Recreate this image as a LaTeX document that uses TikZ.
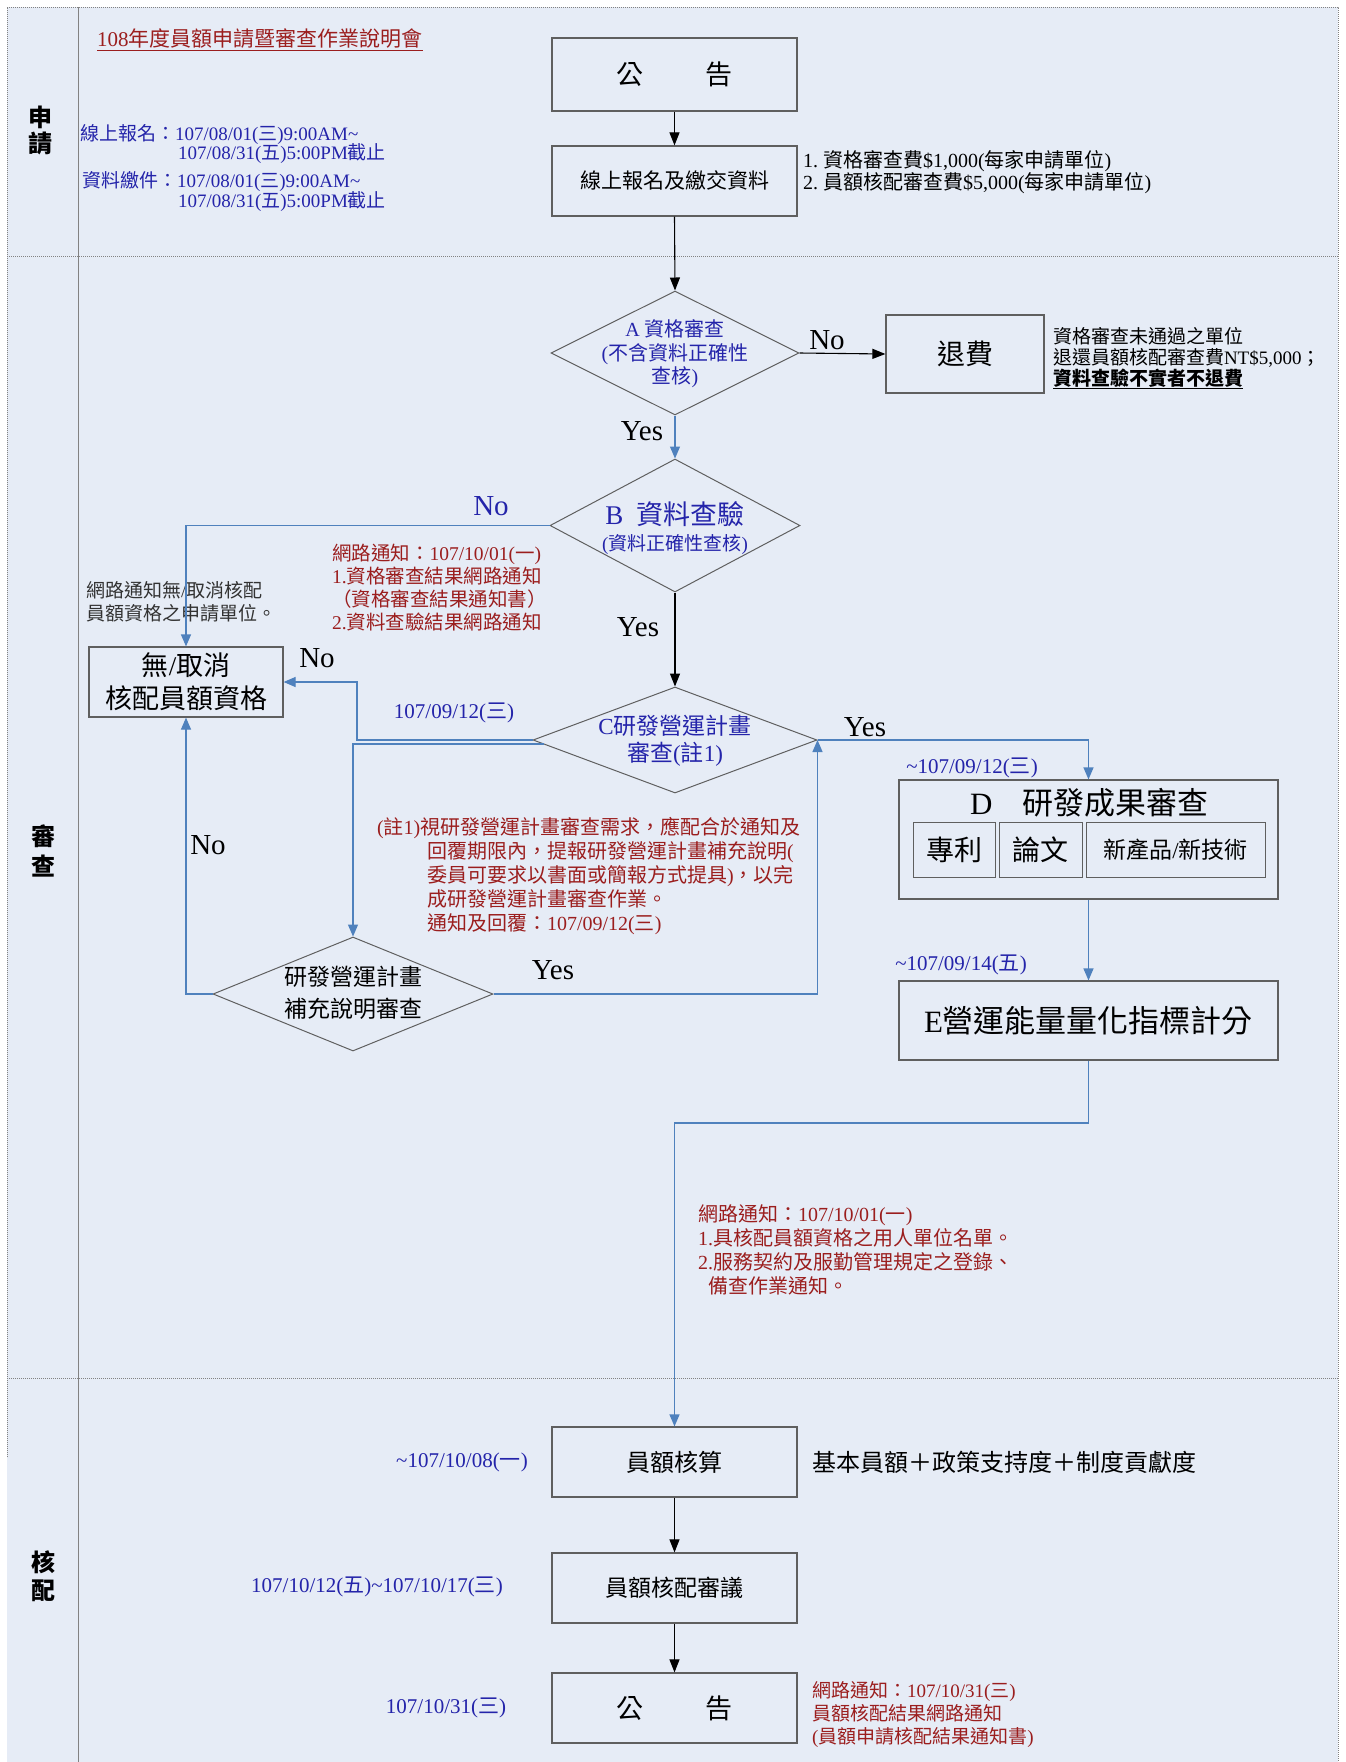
\documentclass[tikz,border=0pt]{standalone}
\usepackage{fontspec}
\setmainfont{Liberation Serif}
\newfontfamily\cjkfont{Noto Sans CJK TC}
\newfontfamily\latfont{Liberation Serif}
\usetikzlibrary{arrows.meta,shapes.geometric}
\definecolor{bgblue}{RGB}{230,236,246}
\definecolor{framegray}{RGB}{130,130,130}
\definecolor{lnblue}{RGB}{79,129,189}
\definecolor{txtblue}{RGB}{36,36,170}
\definecolor{txtred}{RGB}{155,30,30}
\definecolor{boxgray}{RGB}{95,95,95}
\definecolor{notegray}{RGB}{50,50,50}
\count255="3000
\loop
\XeTeXcharclass\count255=7
\advance\count255 by 1
\ifnum\count255<"A000
\repeat
\count255="FF00
\loop
\XeTeXcharclass\count255=7
\advance\count255 by 1
\ifnum\count255<"FFF0
\repeat
\XeTeXinterchartoks 0 7 = {\cjkfont}
\XeTeXinterchartoks 4095 7 = {\cjkfont}
\XeTeXinterchartoks 7 0 = {\latfont}
\XeTeXinterchartoks 4095 0 = {\latfont}
\newcommand\fs[2]{\fontsize{#1}{#2}\selectfont}
\begin{document}
\XeTeXinterchartokenstate=1
\begin{tikzpicture}[x=1pt,y=-1pt,
  lbl/.style={inner sep=0pt, outer sep=0pt},
  procbox/.style={draw=boxgray, line width=1.2pt, inner sep=0pt, minimum width=245pt, minimum height=70pt},
  decide/.style={draw=boxgray, line width=1pt, diamond, inner sep=0pt},
  barrow/.style={draw=black, line width=1.1pt, -{Triangle[length=13pt,width=10pt]}},
  blarrow/.style={draw=lnblue, line width=1.2pt, -{Triangle[length=12pt,width=10pt]}},
  yn/.style={lbl, font=\fs{29}{30}},
  framedot/.style={draw=framegray, densely dotted, line width=1pt},
  frameln/.style={draw=framegray, line width=0.8pt}]
\useasboundingbox (0,0) rectangle (1345,1762);
\fill[white] (0,0) rectangle (1345,1762);
\fill[bgblue] (7,7) rectangle (1338,1762);
\draw[framedot] (7,1457) -- (7,7) -- (1338,7) -- (1338,1762);
\draw[frameln] (78,7) -- (78,1762);
\draw[framedot] (7,256) -- (1338,256);
\draw[framedot] (7,1378) -- (1338,1378);

% lane labels
\node[lbl, align=center, font=\fs{24}{26}\bfseries] (laneA) at (40,130) {申\\請};
\node[lbl, align=center, font=\fs{24}{30}\bfseries] (laneB) at (43,851) {審\\查};
\node[lbl, align=center, font=\fs{24}{28}\bfseries] (laneC) at (43,1576) {核\\配};

% top lane
\node[lbl, anchor=west, text=txtred, font=\fs{21}{24}] (title) at (97,40) {\underline{108年度員額申請暨審查作業說明會}};
\node[lbl, anchor=west, text=txtblue, font=\fs{19}{21}] (reg1) at (80,135) {線上報名：107/08/01(三)9:00AM\textasciitilde};
\node[lbl, anchor=west, text=txtblue, font=\fs{19}{21}] (reg2) at (178,154) {107/08/31(五)5:00PM截止};
\node[lbl, anchor=west, text=txtblue, font=\fs{19}{21}] (sub1) at (82,182) {資料繳件：107/08/01(三)9:00AM\textasciitilde};
\node[lbl, anchor=west, text=txtblue, font=\fs{19}{21}] (sub2) at (178,202) {107/08/31(五)5:00PM截止};

\node[procbox, minimum height=73pt, font=\fs{27}{30}] (ann1) at (674.5,74.5) {公\hspace{63pt}告};
\node[procbox, font=\fs{21}{24}] (apply) at (674.5,181) {線上報名及繳交資料};
\node[lbl, anchor=west, align=left, font=\fs{20}{21}] (fee) at (803,172.5) {1.\ 資格審查費\$1,000(每家申請單位)\\2.\ 員額核配審查費\$5,000(每家申請單位)};

% A
\node[decide, minimum width=248pt, minimum height=124pt] (A) at (675,353) {};
\node[lbl, align=center, text=txtblue, font=\fs{20}{23.5}] (atext) at (675,354) {A\ 資格審查\\(不含資料正確性\\查核)};
\node[procbox, minimum width=158pt, minimum height=78pt, font=\fs{28}{30}] (refund) at (965,354) {退費};
\node[lbl, anchor=west, align=left, font=\fs{19}{21}] (refnote) at (1053,358) {資格審查未通過之單位\\退還員額核配審查費NT\$5,000；\\\textbf{\underline{資料查驗不實者不退費}}};
\node[yn] (noA) at (827,340) {No};
\node[yn] (yesA) at (642,431) {Yes};

% B
\node[decide, minimum width=250pt, minimum height=133pt] (B) at (675,525.5) {};
\node[lbl, text=txtblue, font=\fs{27}{30}] (btext1) at (675,514) {B\ \ 資料查驗};
\node[lbl, text=txtblue, font=\fs{19}{22}] (btext2) at (675,544) {(資料正確性查核)};
\node[yn, text=txtblue] (noB) at (491,506) {No};
\node[lbl, anchor=west, align=left, text=txtred, font=\fs{19.5}{23}] (bnote) at (332,587.5) {網路通知：107/10/01(一)\\1.資格審查結果網路通知\\（資格審查結果通知書）\\2.資料查驗結果網路通知};
\node[lbl, anchor=west, align=left, text=notegray, font=\fs{19}{23}] (cnote) at (86,601.5) {網路通知無/取消核配\\員額資格之申請單位。};
\node[yn] (yesB) at (638,627) {Yes};

% cancel box
\node[procbox, minimum width=194pt, minimum height=70pt, align=center, font=\fs{27}{33}] (nocancel) at (186,682) {無/取消\\核配員額資格};

% C
\node[decide, minimum width=284pt, minimum height=106pt] (C) at (675,740) {};
\node[lbl, align=center, text=txtblue, font=\fs{23}{27}] (ctext) at (675,741) {C研發營運計畫\\審查(註1)};
\node[yn] (noC) at (317,658) {No};
\node[lbl, text=txtblue, font=\fs{21}{24}] (cdate) at (454,713) {107/09/12(三)};
\node[yn] (yesC) at (865,727) {Yes};
\node[lbl, anchor=west, align=left, text=txtred, font=\fs{20}{24}] (note1) at (377,876) {(註1)視研發營運計畫審查需求，應配合於通知及\\\hspace*{50pt}回覆期限內，提報研發營運計畫補充說明(\\\hspace*{50pt}委員可要求以書面或簡報方式提具)，以完\\\hspace*{50pt}成研發營運計畫審查作業。\\\hspace*{50pt}通知及回覆：107/09/12(三)};

% supplementary diamond
\node[decide, minimum width=280pt, minimum height=114pt] (sup) at (353,994) {};
\node[lbl, align=center, font=\fs{23}{32}] (suptext) at (353,993) {研發營運計畫\\補充說明審查};
\node[yn] (noS) at (208,845) {No};
\node[yn] (yesS) at (553,970) {Yes};

% D
\node[lbl, text=txtblue, font=\fs{21}{24}] (ddate) at (972,768) {\textasciitilde107/09/12(三)};
\node[draw=boxgray, line width=1.2pt, inner sep=0pt, minimum width=379pt, minimum height=119pt] (Dbox) at (1088.5,839.5) {};
\node[lbl, anchor=west, font=\fs{31}{32}] (dtitle) at (970,803) {D\hspace{30pt}研發成果審查};
\node[draw=boxgray, line width=1pt, inner sep=0pt, minimum width=82pt, minimum height=55pt, font=\fs{28}{30}] (patent) at (954,849.5) {專利};
\node[draw=boxgray, line width=1pt, inner sep=0pt, minimum width=83pt, minimum height=55pt, font=\fs{28}{30}] (paper) at (1040.5,849.5) {論文};
\node[draw=boxgray, line width=1pt, inner sep=0pt, minimum width=179pt, minimum height=55pt, font=\fs{23}{26}] (newtech) at (1175.5,849.5) {新產品/新技術};

% E
\node[lbl, text=txtblue, font=\fs{21}{24}] (edate) at (961,965) {\textasciitilde107/09/14(五)};
\node[draw=boxgray, line width=1.2pt, inner sep=0pt, minimum width=379pt, minimum height=79pt, font=\fs{31}{33}] (Ebox) at (1088.5,1020.5) {E營運能量量化指標計分};
\node[lbl, anchor=west, align=left, text=txtred, font=\fs{20}{24}] (enote) at (698,1250) {網路通知：107/10/01(一)\\1.具核配員額資格之用人單位名單。\\2.服務契約及服勤管理規定之登錄、\\\hspace*{10pt}備查作業通知。};
\coordinate (ebend) at (1088.5,1123);

% bottom lane
\node[procbox, font=\fs{24}{26}] (calc) at (674.5,1462) {員額核算};
\node[lbl, text=txtblue, font=\fs{21}{24}] (calcdate) at (462,1462) {\textasciitilde107/10/08(一)};
\node[lbl, anchor=west, font=\fs{24}{26}] (formula) at (812,1462) {基本員額＋政策支持度＋制度貢獻度};
\node[procbox, font=\fs{23}{26}] (review) at (674.5,1588) {員額核配審議};
\node[lbl, text=txtblue, font=\fs{21}{24}] (revdate) at (377,1587) {107/10/12(五)\textasciitilde107/10/17(三)};
\node[procbox, font=\fs{27}{30}] (ann2) at (674.5,1708) {公\hspace{63pt}告};
\node[lbl, text=txtblue, font=\fs{21}{24}] (anndate) at (446,1708) {107/10/31(三)};
\node[lbl, anchor=west, align=left, text=txtred, font=\fs{19}{23}] (annnote) at (812,1715) {網路通知：107/10/31(三)\\員額核配結果網路通知\\(員額申請核配結果通知書)};

% connectors
\draw[barrow] (ann1.south) -- (apply.north);
\draw[barrow] (apply.south) -- (A.north);
\draw[barrow] (A.east) -- (refund.west);
\draw[blarrow] (A.south) -- (B.north);
\draw[blarrow] (B.west) -| (nocancel.north);
\draw[barrow] (B.south) -- (C.north);
\coordinate (cnb) at (357,740);
\draw[blarrow] (C.west) -- (cnb) |- (nocancel.east);
\draw[blarrow] ([shift={(11pt,-4pt)}]C.west) -| (sup.north);
\draw[blarrow] (sup.west) -| (nocancel.south);
\draw[blarrow] (sup.east) -| (C.east);
\draw[blarrow] (C.east) -| (Dbox.north);
\draw[blarrow] (Dbox.south) -- (Ebox.north);
\draw[blarrow] (Ebox.south) -- (ebend) -| (calc.north);
\draw[barrow] (calc.south) -- (review.north);
\draw[barrow] (review.south) -- (ann2.north);
\end{tikzpicture}
\end{document}
